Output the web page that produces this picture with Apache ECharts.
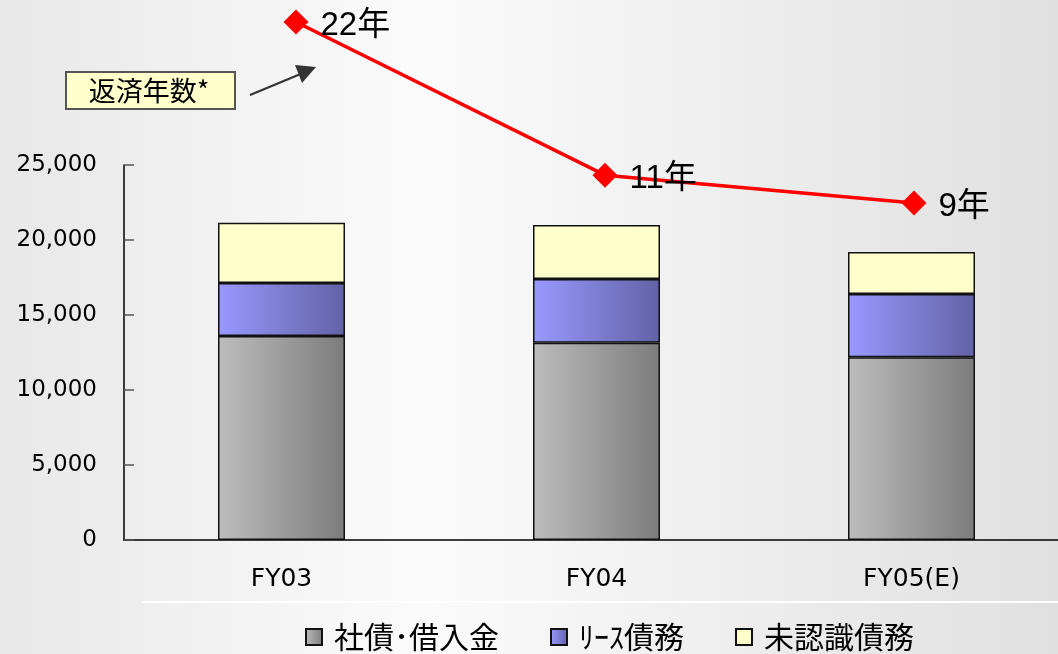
<!DOCTYPE html>
<html>
<head>
<meta charset="utf-8">
<script src="https://cdn.jsdelivr.net/npm/echarts@6/dist/echarts.min.js"></script>
<style>
html,body{margin:0;padding:0;}
#c{width:1058px;height:654px;}
</style>
</head>
<body>
<div id="c"></div>
<script>
// ---- data ----
var categories = ['FY03', 'FY04', 'FY05(E)'];
var seriesNames = ['社債･借入金', 'ﾘｰｽ債務', '未認識債務'];
var bondsLoans = [13600, 13150, 12180];
var leaseDebt = [3530, 4250, 4220];
var unrecognizedDebt = [4020, 3600, 2800];
var repaymentYears = [22, 11, 9];
var yTicks = [0, 5000, 10000, 15000, 20000, 25000];

var chart = echarts.init(document.getElementById('c'));

function hGrad(c0, c1) {
  return new echarts.graphic.LinearGradient(0, 0, 1, 0, [
    { offset: 0, color: c0 }, { offset: 1, color: c1 }
  ]);
}

var numFont = 'DejaVu Sans, Liberation Sans, sans-serif';
var cjkFont = 'Liberation Sans, Noto Sans CJK JP, sans-serif';

var barBase = {
  type: 'bar',
  stack: 'debt',
  barWidth: 127,
  xAxisIndex: 0,
  yAxisIndex: 0
};

var legendPadRight = [0, 8, 0];
var legendRich = {};
seriesNames.forEach(function (n, i) {
  legendRich['t' + i] = { padding: [0, legendPadRight[i], 0, 0], fontSize: 30, fontFamily: 'Noto Sans CJK JP, sans-serif', color: '#000' };
});

var option = {
  animation: false,
  backgroundColor: new echarts.graphic.LinearGradient(0, 0, 1, 0, [
    { offset: 0, color: '#e8e8e8' },
    { offset: 0.4, color: '#fbfbfb' },
    { offset: 1, color: '#e0e0e0' }
  ]),
  grid: [
    { left: 124, top: 165, width: 945, height: 375, outerBoundsMode: 'none', containLabel: false },
    { left: 141.5, top: 22, width: 927, height: 181, outerBoundsMode: 'none', containLabel: false }
  ],
  xAxis: [
    {
      type: 'category',
      gridIndex: 0,
      data: categories,
      axisLine: { lineStyle: { color: '#000', width: 1.5 } },
      axisTick: { inside: true, length: 9, lineStyle: { color: '#000' } },
      axisLabel: { margin: 27, color: '#000', fontSize: 25, fontFamily: numFont }
    },
    {
      type: 'category',
      gridIndex: 1,
      data: categories,
      show: false
    }
  ],
  yAxis: [
    {
      type: 'value',
      gridIndex: 0,
      min: yTicks[0],
      max: yTicks[yTicks.length - 1],
      interval: 5000,
      axisLine: { show: true, lineStyle: { color: '#000', width: 1.5 } },
      axisTick: { show: true, inside: true, length: 10, lineStyle: { color: '#555', width: 1.5 } },
      splitLine: { show: false },
      axisLabel: {
        margin: 27, color: '#000', fontSize: 23, fontFamily: numFont,
        formatter: function (v) { return v.toLocaleString('en-US'); }
      }
    },
    {
      type: 'value',
      gridIndex: 1,
      min: 9,
      max: 22,
      show: false
    }
  ],
  legend: {
    data: seriesNames,
    left: 305,
    top: 622,
    padding: 0,
    itemWidth: 16,
    itemHeight: 16,
    itemGap: 51,
    icon: 'rect',
    formatter: function (name) {
      return '{t' + seriesNames.indexOf(name) + '|' + name + '}';
    },
    textStyle: { fontSize: 30, color: '#000', fontFamily: 'Noto Sans CJK JP, sans-serif', padding: [0, 0, 0, 7], rich: legendRich }
  },
  series: [
    Object.assign({}, barBase, {
      name: seriesNames[0],
      data: bondsLoans,
      itemStyle: { color: hGrad('#bdbdbd', '#7c7c7c'), borderColor: '#111', borderWidth: 1.5 }
    }),
    Object.assign({}, barBase, {
      name: seriesNames[1],
      data: leaseDebt,
      itemStyle: { color: hGrad('#9999ff', '#6262a6'), borderColor: '#111', borderWidth: 1.5 }
    }),
    Object.assign({}, barBase, {
      name: seriesNames[2],
      data: unrecognizedDebt,
      itemStyle: { color: '#ffffcc', borderColor: '#111', borderWidth: 1.5 }
    }),
    {
      name: '返済年数',
      type: 'line',
      xAxisIndex: 1,
      yAxisIndex: 1,
      data: repaymentYears,
      clip: false,
      symbol: 'diamond',
      symbolSize: 25,
      z: 5,
      lineStyle: { color: '#ff0000', width: 3.5 },
      itemStyle: { color: '#ff0000' },
      label: {
        show: true,
        position: 'right',
        distance: 12,
        offset: [0, 4],
        color: '#000',
        fontSize: 33,
        fontFamily: cjkFont,
        formatter: '{c}年'
      }
    }
  ],
  graphic: [
    {
      type: 'line',
      shape: { x1: 142, y1: 602, x2: 1058, y2: 602 },
      style: { stroke: '#ffffff', lineWidth: 2 },
      silent: true
    },
    {
      type: 'rect',
      shape: { x: 66, y: 72, width: 169, height: 37 },
      style: { fill: '#ffffcc', stroke: '#555', lineWidth: 2 },
      z: 10
    },
    {
      type: 'text',
      x: 149,
      y: 91,
      style: {
        text: '返済年数*',
        font: '27px "Noto Sans CJK JP", sans-serif',
        fill: '#000',
        align: 'center',
        verticalAlign: 'middle'
      },
      z: 11
    },
    {
      type: 'line',
      shape: { x1: 250, y1: 95, x2: 303, y2: 73 },
      style: { stroke: '#333', lineWidth: 2 },
      z: 10
    },
    {
      type: 'polygon',
      shape: { points: [[316, 67], [295, 65], [302, 83]] },
      style: { fill: '#333' },
      z: 10
    }
  ]
};

chart.setOption(option);
</script>
</body>
</html>
